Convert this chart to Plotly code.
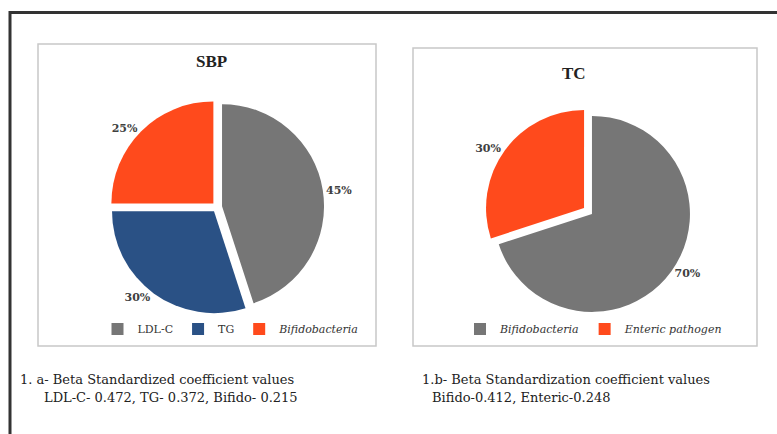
import plotly.graph_objects as go

W, H = 777, 434

# ---- data ----
sbp_labels = ["LDL-C", "TG", "Bifidobacteria"]
sbp_values = [45, 30, 25]
sbp_colors = ["#767676", "#2a5185", "#ff4a1c"]

tc_labels = ["Bifidobacteria", "Enteric pathogen"]
tc_values = [70, 30]
tc_colors = ["#767676", "#ff4a1c"]

italic_labels = {"Bifidobacteria", "Enteric pathogen"}

caption_a = ["1. a- Beta Standardized coefficient values",
             "LDL-C- 0.472, TG- 0.372, Bifido- 0.215"]
caption_b = ["1.b- Beta Standardization coefficient values",
             "Bifido-0.412, Enteric-0.248"]

SERIF = "Liberation Serif, serif"
WIDE_SERIF = "DejaVu Serif, serif"


def disp(lbl, suffix=""):
    # suffix keeps legend entries of the two pies separate
    return (f"<i>{lbl}</i>" if lbl in italic_labels else lbl) + suffix


def domain(cx, cy, r, pull):
    h = r * (1 + pull)
    return dict(x=[(cx - h) / W, (cx + h) / W],
                y=[(H - cy - h) / H, (H - cy + h) / H])


PULL = 0.05
label_font = dict(family=WIDE_SERIF, size=11, color="#404040")

fig = go.Figure()
fig.add_trace(go.Pie(
    labels=[disp(l) for l in sbp_labels], values=sbp_values,
    marker=dict(colors=sbp_colors, line=dict(width=0)),
    sort=False, direction="clockwise", rotation=0,
    pull=[PULL] * len(sbp_values),
    textposition="outside", texttemplate="<b>%{percent:.0%}</b>",
    textfont=label_font,
    domain=domain(217, 207, 102, PULL), legend="legend",
    hoverinfo="label+percent",
))
fig.add_trace(go.Pie(
    labels=[disp(l, "\u200b") for l in tc_labels], values=tc_values,
    marker=dict(colors=tc_colors, line=dict(width=0)),
    sort=False, direction="clockwise", rotation=0,
    pull=[PULL] * len(tc_values),
    textposition="outside", texttemplate="<b>%{percent:.0%}</b>",
    textfont=label_font,
    domain=domain(588, 211, 98, PULL), legend="legend2",
    hoverinfo="label+percent",
))

legend_common = dict(orientation="h", xanchor="center", yanchor="middle",
                     font=dict(family=WIDE_SERIF, size=11, color="#333333"),
                     bgcolor="rgba(0,0,0,0)", itemwidth=30, tracegroupgap=0)

shapes = [
    # outer frame (extends past the window)
    dict(type="line", xref="paper", yref="paper", x0=10 / W, x1=1.02,
         y0=1 - 12.5 / H, y1=1 - 12.5 / H, line=dict(color="#333333", width=3)),
    dict(type="line", xref="paper", yref="paper", x0=10 / W, x1=10 / W,
         y0=1 - 11 / H, y1=-0.02, line=dict(color="#333333", width=3)),
    # chart boxes
    dict(type="rect", xref="paper", yref="paper", x0=38 / W, x1=376 / W,
         y0=1 - 346 / H, y1=1 - 44 / H, line=dict(color="#c8c8c8", width=1.5)),
    dict(type="rect", xref="paper", yref="paper", x0=413 / W, x1=757 / W,
         y0=1 - 346 / H, y1=1 - 48 / H, line=dict(color="#c8c8c8", width=1.5)),
]


def ann(text, x, y, size, xanchor="left", bold=False, family=WIDE_SERIF):
    return dict(text=f"<b>{text}</b>" if bold else text, x=x / W, y=1 - y / H,
                xref="paper", yref="paper", xanchor=xanchor, yanchor="middle",
                showarrow=False, font=dict(family=family, size=size, color="#222222"))


annotations = [
    ann("SBP", 211, 62, 17, "center", True, SERIF),
    ann("TC", 574, 73, 17, "center", True, SERIF),
    ann(caption_a[0], 18, 379, 13),
    ann(caption_a[1], 42, 397, 13),
    ann(caption_b[0], 420, 379, 13),
    ann(caption_b[1], 430, 397, 13),
]

fig.update_layout(
    width=W, height=H, margin=dict(l=0, r=0, t=0, b=0),
    paper_bgcolor="white", plot_bgcolor="white",
    legend=dict(x=231 / W, y=1 - 329 / H, **legend_common),
    legend2=dict(x=594 / W, y=1 - 329 / H, **legend_common),
    shapes=shapes, annotations=annotations,
)

fig.write_html("out.html")
